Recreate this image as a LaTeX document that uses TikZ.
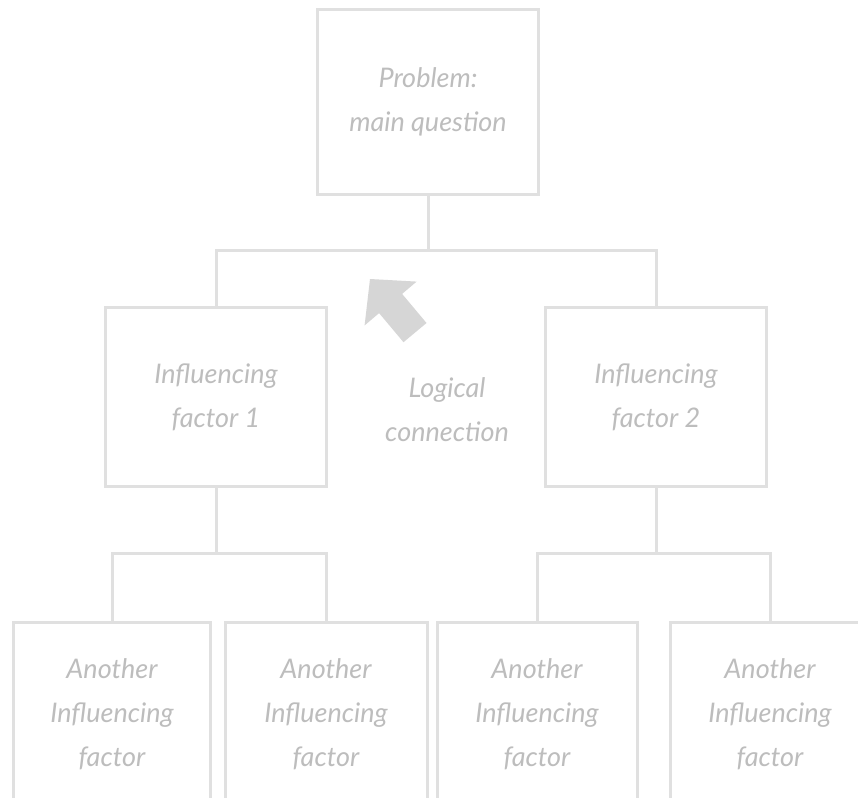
\documentclass[tikz,border=0pt]{standalone}
\usepackage{fontspec}
\setmainfont{Lato}
\definecolor{linegray}{HTML}{E0E0E0}
\definecolor{textgray}{HTML}{BDBDBD}
\definecolor{arrowgray}{HTML}{D6D6D6}
\tikzset{
  box/.style={draw=linegray, line width=3pt, fill=white, align=center,
    text=textgray, font=\fontsize{27}{44}\selectfont\itshape, inner sep=0pt},
  conn/.style={draw=linegray, line width=3pt},
}
\begin{document}
\begin{tikzpicture}[x=1pt,y=-1pt]
\useasboundingbox (0,0) rectangle (858,797);
\clip (0,0) rectangle (858,797);
\fill[white] (0,0) rectangle (858,797);
\node[box, minimum width=221pt, minimum height=185pt] (top) at (428,102) {Problem:\\main question};
\node[box, minimum width=221pt, minimum height=179pt] (m1) at (216,397) {Influencing\\factor 1};
\node[box, minimum width=221pt, minimum height=179pt] (m2) at (656,397) {Influencing\\factor 2};
\node[box, minimum width=197pt, minimum height=184pt] (b1) at (112,714) {Another\\Influencing\\factor};
\node[box, minimum width=202pt, minimum height=184pt] (b2) at (326,714) {Another\\Influencing\\factor};
\node[box, minimum width=200pt, minimum height=184pt] (b3) at (537,714) {Another\\Influencing\\factor};
\node[box, minimum width=200pt, minimum height=184pt] (b4) at (770,714) {Another\\Influencing\\factor};
\draw[conn] (top.south) -- ++(0,54) -| (m1.north);
\draw[conn] (top.south) -- ++(0,54) -| (m2.north);
\draw[conn] (m1.south) -- ++(0,65) -| (b1.north);
\draw[conn] (m1.south) -- ++(0,65) -| (b2.north);
\draw[conn] (m2.south) -- ++(0,65) -| (b3.north);
\draw[conn] (m2.south) -- ++(0,65) -| (b4.north);
% logical connection arrow (block arrow pointing up-left)
\fill[arrowgray] (370,279) -- (416.6,281.6) -- (402.1,293.9) -- (426.5,323) -- (403.5,342.2) -- (379.1,313.1) -- (364.6,325.4) -- cycle;
\node[align=center, text=textgray, font=\fontsize{27}{44}\selectfont\itshape] (lc) at (447,410) {Logical\\connection};
\end{tikzpicture}
\end{document}
